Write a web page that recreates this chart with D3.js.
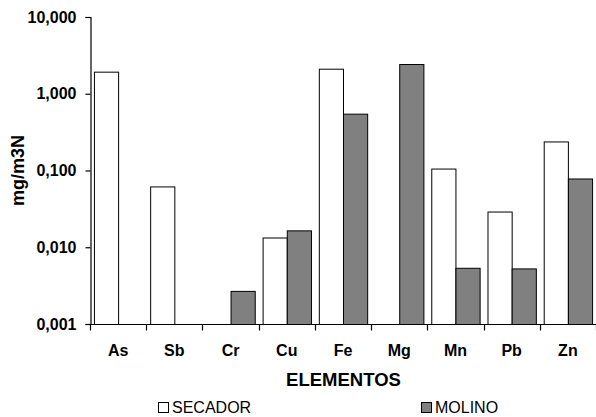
<!DOCTYPE html>
<html>
<head>
<meta charset="utf-8">
<script src="https://cdn.jsdelivr.net/npm/d3@7"></script>
<style>
  html, body { margin: 0; padding: 0; background: #fff; }
  svg { display: block; font-family: "Liberation Sans", Arial, sans-serif; }
</style>
</head>
<body>
<svg id="chart" width="596" height="417"></svg>
<script>
// Elemental concentrations (mg/m3N) at the dryer and the mill
const elements = ["As", "Sb", "Cr", "Cu", "Fe", "Mg", "Mn", "Pb", "Zn"];
const secador = [1.94, 0.062, null, 0.0134, 2.12, null, 0.106, 0.0292, 0.239];
const molino  = [null, null, 0.0027, 0.0166, 0.55, 2.44, 0.0054, 0.0053, 0.0787];
const seriesNames = ["SECADOR", "MOLINO"];
const seriesFill = ["#ffffff", "#808080"];
const yTicks = [0.001, 0.01, 0.1, 1, 10];
const yTickLabels = ["0,001", "0,010", "0,100", "1,000", "10,000"];

const svg = d3.select("#chart");
const margin = { left: 90, right: 0, top: 17, bottom: 93 };
const W = 596, H = 417;
const plotBottom = H - margin.bottom;

const x = d3.scaleBand().domain(elements).range([margin.left, W - margin.right]).padding(0);
const bw = x.bandwidth();
const x1 = d3.scaleBand().domain(seriesNames).range([bw * 0.07, bw * 0.93]).padding(0);
const y = d3.scaleLog().domain([0.001, 10]).range([plotBottom, margin.top]);

// bars
const series = [secador, molino];
series.forEach((vals, si) => {
  svg.append("g").selectAll("rect")
    .data(elements.map((e, i) => ({ e, v: vals[i] })).filter(d => d.v != null))
    .join("rect")
    .attr("x", d => x(d.e) + x1(seriesNames[si]) + 0.5)
    .attr("width", x1.bandwidth())
    .attr("y", d => y(d.v) + 0.5)
    .attr("height", d => plotBottom - y(d.v))
    .attr("fill", seriesFill[si])
    .attr("stroke", "#000")
    .attr("stroke-width", 1);
});

// y axis
const yAxis = d3.axisLeft(y)
  .tickValues(yTicks)
  .tickFormat((d, i) => yTickLabels[i])
  .tickSize(5)
  .tickPadding(9);
const gy = svg.append("g").attr("transform", `translate(${margin.left + 0.5},0)`).call(yAxis);
gy.select(".domain").attr("stroke", "#000").attr("stroke-width", 1.2);
gy.selectAll(".tick line").attr("stroke", "#000").attr("stroke-width", 1.2);
gy.selectAll(".tick text")
  .attr("font-size", 16).attr("font-weight", "bold").attr("fill", "#000")
  .attr("font-family", "'Liberation Sans', Arial, sans-serif");

// x axis: ticks on the band boundaries, labels centred in each band
const gx = svg.append("g").attr("transform", `translate(0,${plotBottom + 0.5})`);
gx.append("line")
  .attr("x1", margin.left).attr("x2", W - margin.right)
  .attr("stroke", "#000").attr("stroke-width", 1.2);
gx.selectAll("line.tk")
  .data(elements.map(e => x(e)).concat([x(elements[elements.length - 1]) + bw]))
  .join("line").attr("class", "tk")
  .attr("x1", d => Math.round(d) + 0.5).attr("x2", d => Math.round(d) + 0.5)
  .attr("y1", 0).attr("y2", 6)
  .attr("stroke", "#000").attr("stroke-width", 1.2);
gx.selectAll("text")
  .data(elements)
  .join("text")
  .attr("x", d => x(d) + bw / 2)
  .attr("y", 31)
  .attr("text-anchor", "middle")
  .attr("font-size", 16).attr("font-weight", "bold")
  .text(d => d);

// axis titles
svg.append("text")
  .attr("x", 343.5)
  .attr("y", 385.5)
  .attr("text-anchor", "middle")
  .attr("font-size", 18.5).attr("font-weight", "bold")
  .text("ELEMENTOS");

svg.append("text")
  .attr("transform", `translate(24,${(margin.top + plotBottom) / 2}) rotate(-90)`)
  .attr("text-anchor", "middle")
  .attr("font-size", 18).attr("font-weight", "bold")
  .text("mg/m3N");

// legend
const legendX = [158, 421];
seriesNames.forEach((name, i) => {
  const g = svg.append("g").attr("transform", `translate(${legendX[i]},401)`);
  g.append("rect").attr("x", 0.5).attr("y", 1.5).attr("width", 10).attr("height", 10)
    .attr("fill", seriesFill[i]).attr("stroke", "#000");
  g.append("text").attr("x", 14).attr("y", 11.5)
    .attr("font-size", 16).text(name);
});
</script>
</body>
</html>
